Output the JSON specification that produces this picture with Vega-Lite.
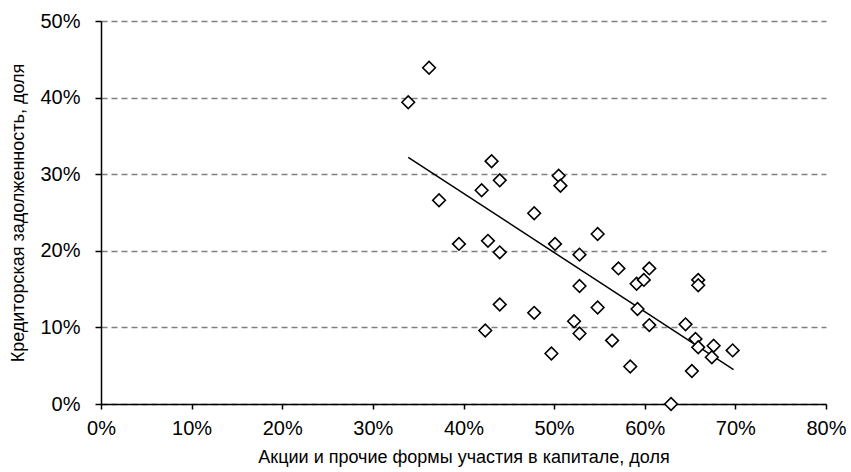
{
  "$schema": "https://vega.github.io/schema/vega-lite/v6.json",
  "autosize": "none",
  "width": 725,
  "height": 383,
  "padding": {"left": 101, "top": 21, "right": 25, "bottom": 68},
  "background": "white",
  "config": {
    "view": {"stroke": null},
    "font": "Liberation Sans",
    "axis": {"labelFont": "Liberation Sans", "titleFont": "Liberation Sans", "labelColor": "black", "titleColor": "black", "titleFontWeight": "normal", "domainColor": "black", "tickColor": "black", "labelFlush": false, "labelOverlap": false}
  },
  "datasets": {
    "points": [
      {"x": 0.362, "y": 0.439}, {"x": 0.339, "y": 0.394}, {"x": 0.431, "y": 0.317},
      {"x": 0.505, "y": 0.298}, {"x": 0.507, "y": 0.285}, {"x": 0.440, "y": 0.292},
      {"x": 0.420, "y": 0.279}, {"x": 0.373, "y": 0.266}, {"x": 0.478, "y": 0.249},
      {"x": 0.395, "y": 0.209}, {"x": 0.427, "y": 0.213}, {"x": 0.501, "y": 0.209},
      {"x": 0.440, "y": 0.198}, {"x": 0.548, "y": 0.222}, {"x": 0.528, "y": 0.195},
      {"x": 0.571, "y": 0.177}, {"x": 0.591, "y": 0.157}, {"x": 0.599, "y": 0.162},
      {"x": 0.605, "y": 0.177}, {"x": 0.528, "y": 0.154}, {"x": 0.440, "y": 0.130},
      {"x": 0.478, "y": 0.119}, {"x": 0.548, "y": 0.126}, {"x": 0.592, "y": 0.124},
      {"x": 0.522, "y": 0.108}, {"x": 0.605, "y": 0.103}, {"x": 0.424, "y": 0.096},
      {"x": 0.528, "y": 0.092}, {"x": 0.564, "y": 0.083}, {"x": 0.497, "y": 0.066},
      {"x": 0.584, "y": 0.049}, {"x": 0.659, "y": 0.162}, {"x": 0.659, "y": 0.155},
      {"x": 0.645, "y": 0.104}, {"x": 0.656, "y": 0.085}, {"x": 0.659, "y": 0.074},
      {"x": 0.676, "y": 0.076}, {"x": 0.674, "y": 0.061}, {"x": 0.697, "y": 0.070},
      {"x": 0.652, "y": 0.043}, {"x": 0.629, "y": 0.000}
    ],
    "trend": [
      {"x": 0.339, "y": 0.322},
      {"x": 0.698, "y": 0.045}
    ]
  },
  "layer": [
    {
      "data": {"name": "trend"},
      "mark": {"type": "line", "color": "black", "strokeWidth": 1.5},
      "encoding": {
        "x": {"field": "x", "type": "quantitative", "scale": {"domain": [0, 0.8], "nice": false},
              "axis": {"title": "Акции и прочие формы участия в капитале, доля", "format": ".0%", "values": [0,0.1,0.2,0.3,0.4,0.5,0.6,0.7,0.8], "grid": false, "tickSize": 5, "labelFontSize": 20, "titleFontSize": 18, "labelPadding": 9, "titlePadding": 10, "domainWidth": 1.5, "tickWidth": 1.5}},
        "y": {"field": "y", "type": "quantitative", "scale": {"domain": [0, 0.5], "nice": false},
              "axis": {"title": "Кредиторская задолженность, доля", "format": ".0%", "values": [0,0.1,0.2,0.3,0.4,0.5], "grid": true, "gridColor": "#808080", "gridDash": [6, 4], "gridWidth": 1.3, "tickSize": 6, "labelFontSize": 20, "titleFontSize": 18, "labelPadding": 15, "titlePadding": 12, "domainWidth": 1.5, "tickWidth": 1.5}}
      }
    },
    {
      "data": {"name": "points"},
      "mark": {"type": "point", "shape": "diamond", "filled": false, "color": "black", "fill": "white", "fillOpacity": 1, "strokeWidth": 1.6, "size": 160, "opacity": 1},
      "encoding": {
        "x": {"field": "x", "type": "quantitative"},
        "y": {"field": "y", "type": "quantitative"}
      }
    }
  ]
}
